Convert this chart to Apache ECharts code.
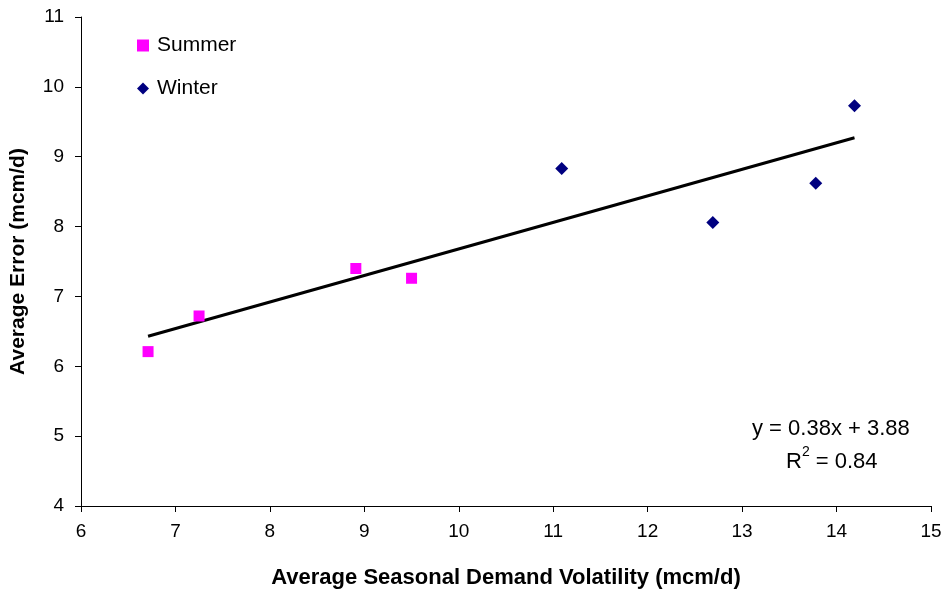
<!DOCTYPE html>
<html><head><meta charset="utf-8">
<script src="https://cdn.jsdelivr.net/npm/echarts@6/dist/echarts.min.js"></script>
<style>html,body{margin:0;padding:0;background:#fff}#c{width:947px;height:590px}</style>
</head><body><div id="c"></div>
<script>
const summerX = [6.71, 7.25, 8.91, 9.50];
const summerY = [6.21, 6.72, 7.40, 7.26];
const winterX = [11.09, 12.69, 13.78, 14.19];
const winterY = [8.83, 8.06, 8.62, 9.73];
const trendSlope = 0.38;
const trendIntercept = 3.88;
const rSquared = 0.84;
const xTicks = [6, 7, 8, 9, 10, 11, 12, 13, 14, 15];
const yTicks = [4, 5, 6, 7, 8, 9, 10, 11];

const allX = summerX.concat(winterX);
const xMin = Math.min(...allX), xMax = Math.max(...allX);
const trend = [[xMin, trendSlope * xMin + trendIntercept], [xMax, trendSlope * xMax + trendIntercept]];

const font = 'Liberation Sans, Arial, sans-serif';
const chart = echarts.init(document.getElementById('c'), null, {renderer: 'canvas'});
chart.setOption({
  animation: false,
  backgroundColor: '#fff',
  grid: {left: 81, right: 16, top: 17, bottom: 84, containLabel: false, outerBoundsMode: 'none'},
  legend: {
    orient: 'vertical', left: 132, top: 30, itemGap: 22, itemWidth: 12, itemHeight: 12,
    data: [{name: 'Summer', icon: 'rect'}, {name: 'Winter', icon: 'diamond'}],
    textStyle: {fontFamily: font, fontSize: 21, color: '#000', padding: [0, 0, 0, 3]},
    selectedMode: false
  },
  xAxis: {
    type: 'value', min: xTicks[0], max: xTicks[xTicks.length - 1], interval: 1,
    name: 'Average Seasonal Demand Volatility (mcm/d)', nameLocation: 'middle', nameGap: 61,
    nameTextStyle: {fontFamily: font, fontSize: 22, fontWeight: 'bold', color: '#000'},
    axisLine: {lineStyle: {color: '#000', width: 1}},
    axisTick: {show: true, length: 6, lineStyle: {color: '#000'}},
    axisLabel: {fontFamily: font, fontSize: 19, color: '#000', margin: 16},
    splitLine: {show: false}
  },
  yAxis: {
    type: 'value', min: yTicks[0], max: yTicks[yTicks.length - 1], interval: 1,
    name: 'Average Error (mcm/d)', nameLocation: 'middle', nameGap: 52, nameRotate: 90,
    nameTextStyle: {fontFamily: font, fontSize: 21, fontWeight: 'bold', color: '#000'},
    axisLine: {show: true, lineStyle: {color: '#000', width: 1}},
    axisTick: {show: true, length: 6, lineStyle: {color: '#000'}},
    axisLabel: {fontFamily: font, fontSize: 19, color: '#000', margin: 17},
    splitLine: {show: false}
  },
  series: [
    {
      name: 'Trend', type: 'line', data: trend, symbol: 'none', silent: true,
      lineStyle: {color: '#000', width: 3}, z: 1
    },
    {
      name: 'Summer', type: 'scatter', symbol: 'rect', symbolSize: 11,
      itemStyle: {color: '#FF00FF', opacity: 1},
      data: summerX.map((x, i) => [x, summerY[i]]), z: 3
    },
    {
      name: 'Winter', type: 'scatter', symbol: 'diamond', symbolSize: 13,
      itemStyle: {color: '#000080', opacity: 1},
      data: winterX.map((x, i) => [x, winterY[i]]), z: 3
    }
  ],
  graphic: [
    {
      type: 'text', left: 752, top: 418,
      style: {text: 'y = ' + trendSlope.toFixed(2) + 'x + ' + trendIntercept.toFixed(2), font: '22px ' + font, fill: '#000'}
    },
    {
      type: 'text', left: 786, top: 445,
      style: {
        text: '{b|R}{s|2}{b| = ' + rSquared.toFixed(2) + '}',
        rich: {
          b: {fontFamily: font, fontSize: 22, color: '#000', verticalAlign: 'bottom', lineHeight: 28},
          s: {fontFamily: font, fontSize: 14, color: '#000', verticalAlign: 'top', lineHeight: 28, padding: [0, 0, 12, 0]}
        }
      }
    }
  ]
});
</script></body></html>
